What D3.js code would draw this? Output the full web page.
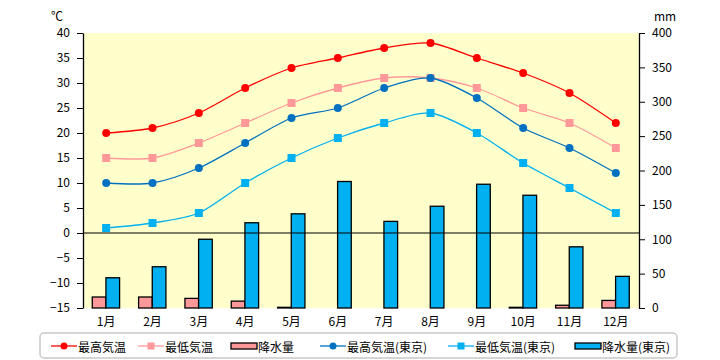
<!DOCTYPE html>
<html>
<head>
<meta charset="utf-8">
<script src="https://cdn.jsdelivr.net/npm/d3@7"></script>
<style>
    body { margin: 0; background: #fff; }
    svg text { font-family: "Noto Sans CJK JP", sans-serif; font-size: 12px; fill: #000; }
</style>
</head>
<body>
<svg id="chart_svg" width="720" height="360"></svg>
<script>
// chart data
const months = ["1月", "2月", "3月", "4月", "5月", "6月", "7月", "8月", "9月", "10月", "11月", "12月"];
const maxTemp = [20, 21, 24, 29, 33, 35, 37, 38, 35, 32, 28, 22];
const minTemp = [15, 15, 18, 22, 26, 29, 31, 31, 29, 25, 22, 17];
const rain = [16, 16, 14, 10, 1, 0, 0, 0, 0, 1, 4, 11];
const maxTempTokyo = [10, 10, 13, 18, 23, 25, 29, 31, 27, 21, 17, 12];
const minTempTokyo = [1, 2, 4, 10, 15, 19, 22, 24, 20, 14, 9, 4];
const rainTokyo = [44, 60, 100, 124, 137, 184, 126, 148, 180, 164, 89, 46];
const tempTicks = [-15, -10, -5, 0, 5, 10, 15, 20, 25, 30, 35, 40];
const rainTicks = [0, 50, 100, 150, 200, 250, 300, 350, 400];

const svg = d3.select("#chart_svg");

// plot area
const plotLeft = 83, plotRight = 639, plotTop = 33, plotBottom = 308;

let x = d3.scaleBand().domain(months).range([plotLeft, plotRight]);
let xInner = d3.scaleBand().domain(["rain", "rainTokyo"])
    .range([x.bandwidth() * 0.2, x.bandwidth() * 0.79]);
let yTemp = d3.scaleLinear().domain([-15, 40]).range([plotBottom, plotTop]);
let yRain = d3.scaleLinear().domain([0, 400]).range([plotBottom, plotTop]);

svg.append("rect")
    .attr("x", plotLeft)
    .attr("y", plotTop)
    .attr("width", plotRight - plotLeft)
    .attr("height", plotBottom - plotTop)
    .attr("fill", "#ffffcc");

// bars (precipitation, right axis)
let rainRows = months.map((m, i) => ({ month: m, rain: rain[i], rainTokyo: rainTokyo[i] }));
let barColors = { rain: "#ff9999", rainTokyo: "#00b0f0" };

let groups = svg.append("g").selectAll("g")
    .data(rainRows)
    .enter().append("g")
    .attr("transform", d => "translate(" + x(d.month) + ",0)");

groups.selectAll("rect")
    .data(d => ["rain", "rainTokyo"].map(k => ({ key: k, value: d[k] })).filter(d => d.value > 0))
    .enter().append("rect")
    .attr("x", d => xInner(d.key))
    .attr("y", d => yRain(d.value))
    .attr("width", xInner.bandwidth())
    .attr("height", d => yRain(0) - yRain(d.value))
    .attr("fill", d => barColors[d.key])
    .attr("stroke", "#000")
    .attr("stroke-width", 1.3);

// zero line
svg.append("line")
    .attr("x1", plotLeft)
    .attr("x2", plotRight)
    .attr("y1", yTemp(0))
    .attr("y2", yTemp(0))
    .attr("stroke", "#000")
    .attr("stroke-width", 1.2);

// temperature lines
let series = [
    { values: maxTemp, color: "#ff0000", marker: "circle" },
    { values: minTemp, color: "#ff9999", marker: "square" },
    { values: maxTempTokyo, color: "#0070c0", marker: "circle" },
    { values: minTempTokyo, color: "#00b0f0", marker: "square" }
];

let line = d3.line()
    .x((d, i) => x(months[i]) + x.bandwidth() / 2)
    .y(d => yTemp(d))
    .curve(d3.curveCardinal.tension(0.2));

series.forEach(function (s) {
    let g = svg.append("g");
    g.append("path")
        .datum(s.values)
        .attr("d", line)
        .attr("fill", "none")
        .attr("stroke", s.color)
        .attr("stroke-width", 1.3);

    if (s.marker == "circle") {
        g.selectAll("circle")
            .data(s.values)
            .enter().append("circle")
            .attr("cx", (d, i) => x(months[i]) + x.bandwidth() / 2)
            .attr("cy", d => yTemp(d))
            .attr("r", 4)
            .attr("fill", s.color);
    } else {
        g.selectAll("rect")
            .data(s.values)
            .enter().append("rect")
            .attr("x", (d, i) => x(months[i]) + x.bandwidth() / 2 - 4)
            .attr("y", d => yTemp(d) - 4)
            .attr("width", 8)
            .attr("height", 8)
            .attr("fill", s.color);
    }
});

// axes
let leftAxis = svg.append("g")
    .attr("transform", "translate(" + plotLeft + ",0)")
    .call(d3.axisLeft(yTemp).tickValues(tempTicks).tickSize(6).tickSizeOuter(0).tickPadding(7));
let rightAxis = svg.append("g")
    .attr("transform", "translate(" + plotRight + ",0)")
    .call(d3.axisRight(yRain).tickValues(rainTicks).tickSize(6).tickSizeOuter(0).tickPadding(7));
[leftAxis, rightAxis].forEach(function (a) {
    a.select(".domain").attr("stroke", "#000").attr("stroke-width", 1.3);
    a.selectAll(".tick line").attr("stroke", "#000");
    a.selectAll("text").style("font-family", "'Noto Sans CJK JP', sans-serif").style("font-size", "12px");
});

// month labels
svg.append("g").selectAll("text")
    .data(months)
    .enter().append("text")
    .attr("x", d => x(d) + x.bandwidth() / 2)
    .attr("y", 320)
    .attr("text-anchor", "middle")
    .attr("dominant-baseline", "central")
    .text(d => d);

// units
svg.append("text")
    .attr("x", 57)
    .attr("y", 15)
    .attr("text-anchor", "middle")
    .attr("dominant-baseline", "central")
    .text("℃");
svg.append("text")
    .attr("x", 665)
    .attr("y", 15)
    .attr("text-anchor", "middle")
    .attr("dominant-baseline", "central")
    .text("mm");

// legend
let legendItems = [
    { label: "最高気温", color: "#ff0000", type: "circle", x: 51 },
    { label: "最低気温", color: "#ff9999", type: "square", x: 138 },
    { label: "降水量", color: "#ff9999", type: "bar", x: 231 },
    { label: "最高気温(東京)", color: "#0070c0", type: "circle", x: 320 },
    { label: "最低気温(東京)", color: "#00b0f0", type: "square", x: 448 },
    { label: "降水量(東京)", color: "#00b0f0", type: "bar", x: 575 }
];

let legend = svg.append("g");
legend.append("rect")
    .attr("x", 40)
    .attr("y", 333)
    .attr("width", 637)
    .attr("height", 25)
    .attr("rx", 4)
    .attr("fill", "#fff")
    .attr("stroke", "#c8c8c8")
    .attr("stroke-width", 1.5);

let ly = 346;
legendItems.forEach(function (it) {
    if (it.type == "bar") {
        legend.append("rect")
            .attr("x", it.x)
            .attr("y", ly - 3)
            .attr("width", 26)
            .attr("height", 6)
            .attr("fill", it.color)
            .attr("stroke", "#000")
            .attr("stroke-width", 1.3);
    } else {
        legend.append("line")
            .attr("x1", it.x)
            .attr("x2", it.x + 26)
            .attr("y1", ly)
            .attr("y2", ly)
            .attr("stroke", it.color)
            .attr("stroke-width", 1.3);
        if (it.type == "circle") {
            legend.append("circle")
                .attr("cx", it.x + 13)
                .attr("cy", ly)
                .attr("r", 3.5)
                .attr("fill", it.color);
        } else {
            legend.append("rect")
                .attr("x", it.x + 9.5)
                .attr("y", ly - 3.5)
                .attr("width", 7)
                .attr("height", 7)
                .attr("fill", it.color);
        }
    }
    legend.append("text")
        .attr("x", it.x + 27)
        .attr("y", ly)
        .attr("dominant-baseline", "central")
        .text(it.label);
});
</script>
</body>
</html>
